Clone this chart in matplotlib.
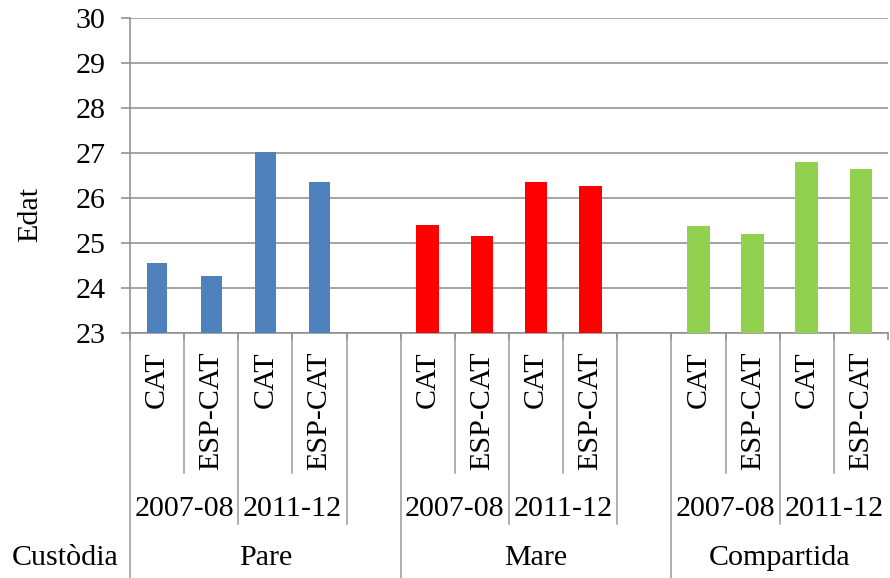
import matplotlib
matplotlib.use("Agg")
import matplotlib.pyplot as plt
import matplotlib.transforms as mtransforms

# ---- data ----
groups = ["Pare", "Mare", "Compartida"]
years = ["2007-08", "2011-12"]
origins = ["CAT", "ESP-CAT"]
pare_vals = [24.55, 24.27, 27.03, 26.36]
mare_vals = [25.39, 25.16, 26.36, 26.27]
compartida_vals = [25.38, 25.20, 26.80, 26.64]
yticks = [23, 24, 25, 26, 27, 28, 29, 30]
colors = ["#4F81BD", "#FF0000", "#92D050"]

plt.rcParams['font.family'] = ['Liberation Serif', 'DejaVu Serif']
FS = 21.6

W, H = 890, 578
fig = plt.figure(figsize=(W / 100, H / 100), dpi=100)
x0, x1, ytop, ybot = 130, 888, 18, 333
ax = fig.add_axes([x0 / W, (H - ybot) / H, (x1 - x0) / W, (ybot - ytop) / H])

series = [pare_vals, mare_vals, compartida_vals]
widths = [0.38, 0.42, 0.42]
for g, vals in enumerate(series):
    xs = [g * 5 + i for i in range(len(vals))]
    ax.bar(xs, [v - yticks[0] for v in vals], bottom=yticks[0], width=widths[g],
           color=colors[g], zorder=3)

ax.set_xlim(-0.5, 13.5)
ax.set_ylim(yticks[0], yticks[-1])
ax.set_yticks(yticks)
ax.set_yticklabels([str(t) for t in yticks], fontsize=FS)
ax.yaxis.grid(True, color="#8c8c8c", lw=1.1, zorder=0)
ax.set_axisbelow(True)
for s in ["top", "right"]:
    ax.spines[s].set_visible(False)
for s in ["left", "bottom"]:
    ax.spines[s].set_color("#8c8c8c")
    ax.spines[s].set_linewidth(1.1)
ax.tick_params(axis="y", length=6.5, width=1.1, color="#8c8c8c", pad=11)
ax.set_xticks([b - 0.5 for b in range(15)])
ax.set_xticklabels([])
ax.tick_params(axis="x", length=5, width=1.1, color="#8c8c8c", direction="out")

ax.set_ylabel("Edat", fontsize=FS)
ax.yaxis.set_label_coords((43 - x0) / (x1 - x0), (ybot - 214) / (ybot - ytop))

# label area: x in data, y in axes coords derived from pixel rows
trans = mtransforms.blended_transform_factory(ax.transData, ax.transAxes)
def ya(py):
    return (ybot - py) / (ybot - ytop)

sep_col = "#9a9a9a"
def vline(x, ybottom_px):
    ax.plot([x, x], [ya(ybot), ya(ybottom_px)], transform=trans, color=sep_col,
            lw=1.1, clip_on=False, zorder=1)

for g in range(3):
    base = g * 5
    for yi in range(2):
        for oi in range(2):
            xc = base + yi * 2 + oi
            ax.text(xc, ya(351), origins[oi], rotation=90, ha="center", va="top",
                    fontsize=FS, transform=trans, clip_on=False)
        ax.text(base + yi * 2 + 0.5, ya(509), years[yi], ha="center", va="center",
                fontsize=FS, transform=trans, clip_on=False)
        vline(base + yi * 2 + 0.5, 473)
        if base + yi * 2 + 1.5 < 13.5:
            vline(base + yi * 2 + 1.5, 524)
    ax.text(base + (2 if g < 2 else 1.5), ya(558), groups[g], ha="center", va="center",
            fontsize=FS, transform=trans, clip_on=False)
    vline(base - 0.5, 578)

fig.text(118 / W, (H - 558) / H, "Custòdia", ha="right", va="center", fontsize=FS)

fig.savefig("out.png", dpi=100)
